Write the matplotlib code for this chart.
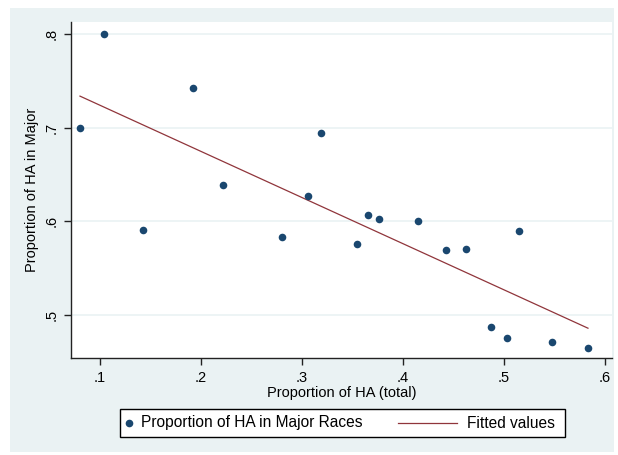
import numpy as np
import matplotlib.pyplot as plt
from matplotlib.lines import Line2D
from matplotlib.patches import Rectangle

plt.rcParams['font.family'] = ['Liberation Sans', 'DejaVu Sans']

# proportion of HA (total) vs proportion of HA in major races
ha_total = [0.0802, 0.1043, 0.1429, 0.1924, 0.2221, 0.2802, 0.3056, 0.3188,
            0.3548, 0.3656, 0.3759, 0.4145, 0.4429, 0.4624, 0.5149, 0.4869,
            0.5027, 0.5479, 0.5832]
ha_major = [0.700, 0.800, 0.591, 0.742, 0.639, 0.583, 0.627, 0.694,
            0.576, 0.607, 0.603, 0.600, 0.569, 0.571, 0.590, 0.487,
            0.476, 0.471, 0.465]
xticks = [0.1, 0.2, 0.3, 0.4, 0.5, 0.6]
xtick_labels = ['.1', '.2', '.3', '.4', '.5', '.6']
yticks = [0.5, 0.6, 0.7, 0.8]
ytick_labels = ['.5', '.6', '.7', '.8']

navy = '#1a476f'
maroon = '#90353b'
bg = '#eaf2f3'

x = np.array(ha_total)
y = np.array(ha_major)
slope, intercept = np.polyfit(x, y, 1)
xfit = np.array([x.min(), x.max()])
yfit = intercept + slope * xfit

W, H = 618, 455
fig = plt.figure(figsize=(W / 100, H / 100), dpi=100, facecolor='white')
fig.patches.append(Rectangle((10 / W, 1 - 452 / H), 604 / W, 444 / H,
                             transform=fig.transFigure, facecolor=bg,
                             edgecolor='none', zorder=-5))

ax = fig.add_axes([71 / W, 1 - 358 / H, (612 - 71) / W, (358 - 22) / H])
ax.set_zorder(2)
ax.set_facecolor('white')
ax.scatter(x, y, s=30, color=navy, marker='o', zorder=3, linewidths=0)
ax.plot(xfit, yfit, color=maroon, linewidth=0.9, zorder=2)

ax.set_xlim(0.0713, 0.607)
ax.set_ylim(0.4543, 0.8125)
ax.set_xticks(xticks)
ax.set_xticklabels(xtick_labels)
ax.set_yticks(yticks)
ax.set_yticklabels(ytick_labels, rotation=90, va='center')
ax.tick_params(direction='out', length=5, width=1, color='#222222',
               labelsize=10.5, pad=4)
ax.grid(axis='y', color=bg, linewidth=1.2)
ax.set_axisbelow(True)
for side in ['top', 'right']:
    ax.spines[side].set_visible(False)
for side in ['left', 'bottom']:
    ax.spines[side].set_color('#222222')
    ax.spines[side].set_linewidth(1)

ax.set_xlabel('Proportion of HA (total)', fontsize=10.5, labelpad=1)
ax.set_ylabel('Proportion of HA in Major', fontsize=10.5, labelpad=4)

# legend box drawn below the plot
fig.patches.append(Rectangle((120 / W, 1 - 437 / H), 445 / W, 28 / H,
                             transform=fig.transFigure, facecolor='white',
                             edgecolor='black', linewidth=1, zorder=1))
ly = 1 - 423 / H
fig.add_artist(Line2D([129 / W], [ly], marker='o', markersize=5.5,
                      color=navy, markeredgewidth=0, linestyle='none'))
fig.text(141 / W, ly, 'Proportion of HA in Major Races', fontsize=11.2,
         va='center', ha='left')
fig.add_artist(Line2D([398 / W, 457 / W], [ly, ly], color=maroon,
                      linewidth=0.9))
fig.text(467 / W, ly, 'Fitted values', fontsize=11.2, va='center', ha='left')

fig.savefig('out.png', dpi=100, facecolor=fig.get_facecolor())
